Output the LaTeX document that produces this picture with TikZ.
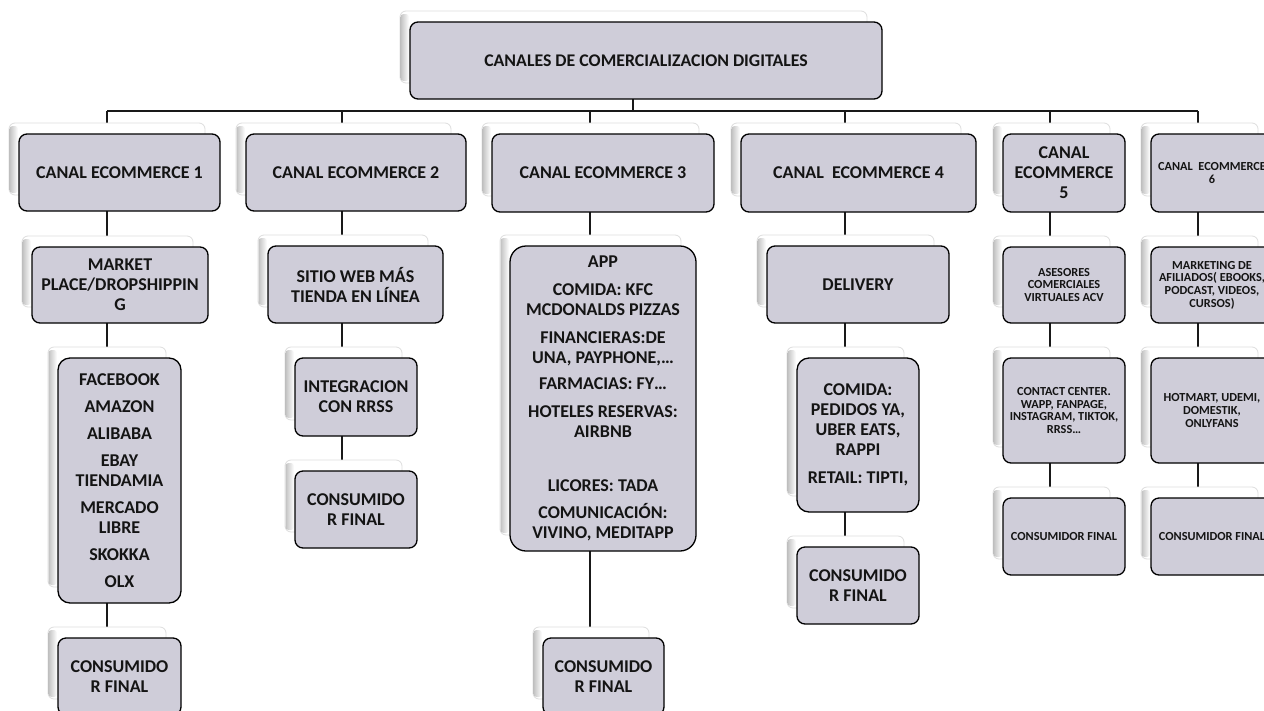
\documentclass[tikz,border=0pt]{standalone}
\usepackage{fontspec}
\setmainfont{Carlito}
\usetikzlibrary{backgrounds}
\definecolor{boxfill}{RGB}{207,205,217}
\definecolor{connc}{RGB}{25,25,25}
\definecolor{txt}{RGB}{20,20,20}
\tikzset{
  frontbox/.style={draw=black, line width=1.3pt, fill=boxfill, rounded corners=8pt,
    inner sep=0pt, outer sep=0pt, align=center, text=txt},
  backcard/.style={draw=black!13, line width=0.8pt, fill=white, rounded corners=6pt},
  conn/.style={draw=connc, line width=1.4pt},
}
\newcommand\fL{\fontsize{18}{20}\selectfont\bfseries}
\newcommand\fT{\fontsize{17.8}{20}\selectfont\bfseries}
\newcommand\fS{\fontsize{12.3}{12.6}\selectfont\bfseries}
% name, options, x1, y1, x2, y2, font, text
\newcommand\card[8]{%
  \pgfmathsetmacro\cw{#5-#3}\pgfmathsetmacro\ch{#6-#4}%
  \path[backcard] (#3-10,#4-11) rectangle (#5-15,#6-16);
  \shade[left color=black!24, right color=white, rounded corners=3pt]
    (#3-9.5,#4-8) rectangle (#3-1,#6-18);
  \node[frontbox, minimum width=\cw pt, minimum height=\ch pt, font=#7, #2]
    (#1) at ({(#3+#5)/2},{(#4+#6)/2}) {#8};
}
\begin{document}
\begin{tikzpicture}[x=1pt,y=-1pt]
\begin{pgfonlayer}{background}
  \fill[white] (0,0) rectangle (1264,710);
\end{pgfonlayer}
\clip (0,0) rectangle (1264,710);

\card{top}{}{410}{22}{882}{99}{\fT}{CANALES DE COMERCIALIZACION DIGITALES}

% column 1
\card{a1}{}{19}{134}{220}{211}{\fL}{CANAL ECOMMERCE 1}
\card{b1}{}{32}{247}{208}{323}{\fL}{MARKET\\PLACE/DROPSHIPPIN\\G}
\card{c1}{rounded corners=12pt}{58}{358}{181}{603}{\fL}{FACEBOOK\\[7pt]AMAZON\\[7pt]ALIBABA\\[7pt]EBAY\\TIENDAMIA\\[7pt]MERCADO\\LIBRE\\[7pt]SKOKKA\\[7pt]OLX}
\card{d1}{}{58}{638}{181}{715}{\fL}{CONSUMIDO\\R FINAL}

% column 2
\card{a2}{}{246}{134}{466}{211}{\fL}{CANAL ECOMMERCE 2}
\card{b2}{}{268}{246}{443}{323}{\fL}{SITIO WEB MÁS\\TIENDA EN LÍNEA}
\card{c2}{}{295}{358}{417}{436}{\fL}{INTEGRACION\\CON RRSS}
\card{d2}{}{295}{471}{417}{548}{\fL}{CONSUMIDO\\R FINAL}

% column 3
\card{a3}{}{492}{134}{714}{212}{\fL}{CANAL ECOMMERCE 3}
\card{b3}{rounded corners=16pt}{510}{246}{696}{551}{\fL}{APP\\[8pt]COMIDA: KFC\\MCDONALDS PIZZAS\\[8pt]FINANCIERAS:DE\\UNA, PAYPHONE,…\\[6pt]FARMACIAS: FY…\\[8pt]HOTELES RESERVAS:\\AIRBNB\\[7pt]\mbox{}\\[7pt]LICORES: TADA\\[7pt]COMUNICACIÓN:\\VIVINO, MEDITAPP}
\card{d3}{}{543}{638}{664}{715}{\fL}{CONSUMIDO\\R FINAL}

% column 4
\card{a4}{}{741}{134}{976}{212}{\fL}{CANAL\ \ ECOMMERCE 4}
\card{b4}{}{767}{246}{949}{323}{\fL}{DELIVERY}
\card{c4}{rounded corners=12pt}{797}{358}{919}{512}{\fL}{COMIDA:\\PEDIDOS YA,\\UBER EATS,\\RAPPI\\[8pt]RETAIL: TIPTI,}
\card{d4}{}{797}{547}{919}{624}{\fL}{CONSUMIDO\\R FINAL}

% column 5
\card{a5}{}{1003}{134}{1125}{212}{\fL}{CANAL\\ECOMMERCE\\5}
\card{b5}{}{1003}{247}{1125}{323}{\fS}{ASESORES\\COMERCIALES\\VIRTUALES ACV}
\card{c5}{}{1003}{358}{1125}{463}{\fS}{CONTACT CENTER.\\WAPP, FANPAGE,\\INSTAGRAM, TIKTOK,\\RRSS…}
\card{d5}{}{1003}{498}{1125}{575}{\fS}{CONSUMIDOR FINAL}

% column 6
\card{a6}{}{1151}{134}{1273}{212}{\fS}{CANAL\ \ ECOMMERCE\\6}
\card{b6}{}{1151}{247}{1273}{323}{\fS}{MARKETING DE\\AFILIADOS( EBOOKS,\\PODCAST, VIDEOS,\\CURSOS)}
\card{c6}{}{1151}{358}{1273}{463}{\fS}{HOTMART, UDEMI,\\DOMESTIK,\\ONLYFANS}
\card{d6}{}{1151}{498}{1273}{575}{\fS}{CONSUMIDOR FINAL}

% connectors
\coordinate (bus) at (0,111);
\coordinate (k0) at (633,0);
\coordinate (k1) at (107,0);
\coordinate (k2) at (342,0);
\coordinate (k3) at (590,0);
\coordinate (k4) at (845,0);
\coordinate (k5) at (1050,0);
\coordinate (k6) at (1198,0);
\begin{pgfonlayer}{background}
  \draw[conn] (k0 |- top.south) -- (k0 |- bus);
  \draw[conn] (k1 |- bus) -- (k6 |- bus);
  \foreach \k/\n in {1/a1,2/a2,3/a3,4/a4,5/a5,6/a6}
    \draw[conn] (k\k |- bus) -- (k\k |- \n.north);
  \draw[conn] (k1 |- a1.south) -- (k1 |- b1.north);
  \draw[conn] (k1 |- b1.south) -- (k1 |- c1.north);
  \draw[conn] (k1 |- c1.south) -- (k1 |- d1.north);
  \draw[conn] (k2 |- a2.south) -- (k2 |- b2.north);
  \draw[conn] (k2 |- b2.south) -- (k2 |- c2.north);
  \draw[conn] (k2 |- c2.south) -- (k2 |- d2.north);
  \draw[conn] (k3 |- a3.south) -- (k3 |- b3.north);
  \draw[conn] (k3 |- b3.south) -- (k3 |- d3.north);
  \draw[conn] (k4 |- a4.south) -- (k4 |- b4.north);
  \draw[conn] (k4 |- b4.south) -- (k4 |- c4.north);
  \draw[conn] (k4 |- c4.south) -- (k4 |- d4.north);
  \draw[conn] (k5 |- a5.south) -- (k5 |- b5.north);
  \draw[conn] (k5 |- b5.south) -- (k5 |- c5.north);
  \draw[conn] (k5 |- c5.south) -- (k5 |- d5.north);
  \draw[conn] (k6 |- a6.south) -- (k6 |- b6.north);
  \draw[conn] (k6 |- b6.south) -- (k6 |- c6.north);
  \draw[conn] (k6 |- c6.south) -- (k6 |- d6.north);
\end{pgfonlayer}
\end{tikzpicture}
\end{document}
